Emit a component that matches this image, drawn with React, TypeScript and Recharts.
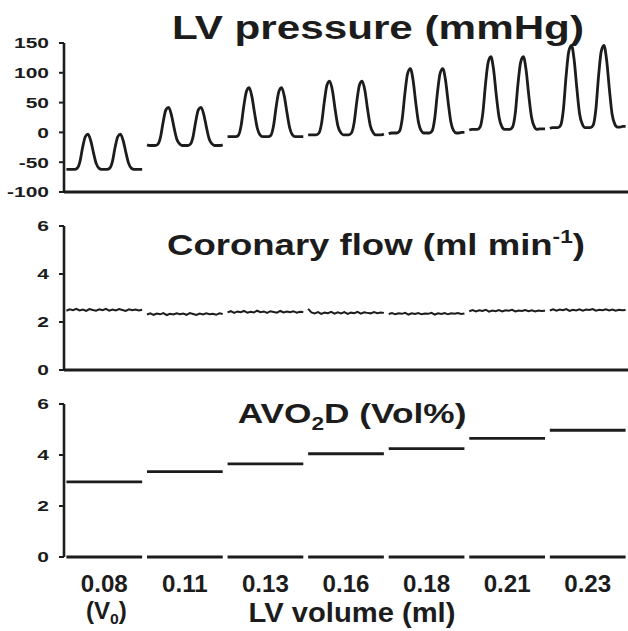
import { Label, Line, LineChart, ReferenceLine, XAxis, YAxis } from "recharts";

// LV volumes of the seven recording windows (ml)
const volumes = ["0.08", "0.11", "0.13", "0.16", "0.18", "0.21", "0.23"];

// LV pressure (mmHg), two beats per window, evenly sampled
const pressure008 = [-62, -62, -62, -62, -60, -49, -25, -7, -3, -14, -34, -52, -60, -62, -62, -62, -60, -49, -25, -7, -3, -14, -34, -52, -60, -62, -62, -62, -62];
const pressure011 = [-21, -22, -22, -22, -20, -8, 18, 38, 42, 30, 8, -11, -19, -22, -22, -22, -20, -8, 18, 38, 42, 30, 8, -11, -19, -22, -22, -22, -21];
const pressure013 = [-7, -7, -7, -7, -5, 11, 44, 69, 75, 60, 32, 7, -4, -7, -7, -7, -5, 11, 44, 69, 75, 60, 32, 7, -4, -7, -7, -7, -7];
const pressure016 = [-4, -4, -4, -4, -1, 16, 52, 80, 86, 70, 38, 11, 0, -4, -4, -4, -1, 16, 52, 80, 86, 70, 38, 11, 0, -4, -4, -4, -3];
const pressure018 = [-2, -1, -1, -1, 2, 23, 66, 99, 107, 88, 50, 17, 3, -1, -1, -1, 2, 23, 66, 99, 107, 88, 50, 17, 3, -1, -1, 0, 0];
const pressure021 = [4, 5, 5, 5, 9, 32, 81, 118, 127, 105, 62, 26, 10, 5, 5, 5, 9, 32, 81, 118, 127, 105, 62, 26, 10, 5, 6, 6, 6];
const pressure023 = [7, 8, 8, 8, 12, 38, 94, 136, 146, 121, 73, 31, 14, 8, 8, 8, 12, 38, 94, 136, 146, 121, 73, 31, 14, 9, 9, 10, 10];
const pressureTraces = [pressure008, pressure011, pressure013, pressure016, pressure018, pressure021, pressure023];

// coronary flow (ml/min), raw trace in each window
const flow008 = [2.47, 2.53, 2.49, 2.55, 2.48, 2.52, 2.46, 2.54, 2.5, 2.47, 2.53, 2.49, 2.55, 2.47, 2.52, 2.48, 2.54, 2.5, 2.46, 2.53, 2.49, 2.52, 2.48, 2.51];
const flow011 = [2.31, 2.36, 2.3, 2.35, 2.32, 2.37, 2.29, 2.34, 2.31, 2.36, 2.32, 2.35, 2.3, 2.37, 2.33, 2.29, 2.35, 2.31, 2.36, 2.32, 2.34, 2.3, 2.36, 2.33];
const flow013 = [2.4, 2.45, 2.38, 2.44, 2.41, 2.46, 2.39, 2.43, 2.4, 2.47, 2.41, 2.44, 2.38, 2.45, 2.42, 2.39, 2.46, 2.4, 2.44, 2.41, 2.45, 2.39, 2.43, 2.42];
const flow016 = [2.55, 2.4, 2.36, 2.41, 2.34, 2.39, 2.37, 2.42, 2.35, 2.4, 2.36, 2.41, 2.34, 2.39, 2.37, 2.42, 2.35, 2.4, 2.38, 2.36, 2.41, 2.37, 2.4, 2.38];
const flow018 = [2.33, 2.37, 2.32, 2.36, 2.34, 2.38, 2.31, 2.36, 2.33, 2.37, 2.32, 2.35, 2.34, 2.38, 2.31, 2.36, 2.33, 2.37, 2.32, 2.36, 2.34, 2.37, 2.33, 2.35];
const flow021 = [2.45, 2.5, 2.44, 2.49, 2.46, 2.51, 2.43, 2.48, 2.45, 2.5, 2.44, 2.49, 2.47, 2.51, 2.44, 2.48, 2.46, 2.5, 2.45, 2.49, 2.44, 2.48, 2.46, 2.47];
const flow023 = [2.48, 2.53, 2.47, 2.52, 2.49, 2.54, 2.46, 2.51, 2.48, 2.53, 2.47, 2.52, 2.5, 2.54, 2.47, 2.51, 2.49, 2.53, 2.48, 2.52, 2.47, 2.51, 2.49, 2.5];
const flowTraces = [flow008, flow011, flow013, flow016, flow018, flow021, flow023];

// arteriovenous O2 difference (Vol%) per window
const avo2d = [2.95, 3.35, 3.65, 4.05, 4.25, 4.65, 4.97];

const pressureTicks = [-100, -50, 0, 50, 100, 150];
const flowTicks = [0, 2, 4, 6];
const avoTicks = [0, 2, 4, 6];
const volumeTicks = volumes.map((_, i) => i + 0.5);

const INK = "#1c1c1c";
const FONT = "'Liberation Sans', Arial, Helvetica, sans-serif";
const WIN_START = 0.03;
const WIN_END = 0.97;

// spread a window's samples across its slot on the x axis
function toSeries(values: number[], slot: number) {
  const n = values.length;
  return values.map((v, j) => ({
    t: slot + WIN_START + ((WIN_END - WIN_START) * j) / (n - 1),
    v,
  }));
}

function renderYTick(props: any) {
  const { x, y, payload } = props;
  return (
    <g transform={`translate(${x},${y}) scale(1.4,1)`}>
      <text x={0} y={0} dy="0.36em" textAnchor="end" fontSize={15} fontWeight={700} fill={INK} fontFamily={FONT}>
        {payload.value}
      </text>
    </g>
  );
}

function renderVolumeTick(props: any) {
  const { x, y, payload } = props;
  const idx = Math.floor(payload.value);
  return (
    <g transform={`translate(${x},${y}) scale(1.05,1)`}>
      <text x={0} y={35} textAnchor="middle" fontSize={23} fontWeight={700} fill={INK} fontFamily={FONT}>
        {volumes[idx]}
      </text>
      {idx === 0 && (
        <text x={2} y={62} textAnchor="middle" fontSize={23} fontWeight={700} fill={INK} fontFamily={FONT}>
          (V
          <tspan fontSize={15} dy={5}>0</tspan>
          <tspan dy={-5}>)</tspan>
        </text>
      )}
    </g>
  );
}

function renderVolumeLabel(props: any) {
  const { x, y, width } = props.viewBox;
  return (
    <g transform={`translate(${x + width / 2 + 6},${y + 65}) scale(1.08,1)`}>
      <text x={0} y={0} textAnchor="middle" fontSize={27} fontWeight={700} fill={INK} fontFamily={FONT}>
        LV volume (ml)
      </text>
    </g>
  );
}

const yAxisStyle = {
  width: 64,
  axisLine: { stroke: INK, strokeWidth: 2.6 },
  tickLine: { stroke: INK, strokeWidth: 2 },
  tickSize: 5,
  tickMargin: 10,
  tick: renderYTick,
  interval: 0 as const,
};

function Title({ cx, y, size, children }: { cx: number; y: number; size: number; children: any }) {
  return (
    <g transform={`translate(${cx},${y}) scale(1.26,1)`}>
      <text x={0} y={0} textAnchor="middle" fontSize={size} fontWeight={700} fill={INK} fontFamily={FONT}>
        {children}
      </text>
    </g>
  );
}

export default function App() {
  return (
    <div style={{ position: "absolute", left: 0, top: 0, width: 628, height: 631, background: "#fff" }}>
      <div style={{ position: "absolute", left: 0, top: 0 }}>
        <LineChart width={628} height={200} margin={{ top: 43, right: 0, bottom: 8, left: 0 }}>
          <XAxis type="number" dataKey="t" domain={[0, 7]} hide />
          <YAxis type="number" domain={[-100, 150]} ticks={pressureTicks} {...yAxisStyle} />
          <ReferenceLine y={-100} stroke={INK} strokeWidth={3} />
          {pressureTraces.map((trace, i) => (
            <Line
              key={volumes[i]}
              data={toSeries(trace, i)}
              dataKey="v"
              type="monotone"
              stroke={INK}
              strokeWidth={2.8}
              dot={false}
              isAnimationActive={false}
            />
          ))}
        </LineChart>
      </div>

      <div style={{ position: "absolute", left: 0, top: 200 }}>
        <LineChart width={628} height={180} margin={{ top: 26, right: 0, bottom: 10, left: 0 }}>
          <XAxis type="number" dataKey="t" domain={[0, 7]} hide />
          <YAxis type="number" domain={[0, 6]} ticks={flowTicks} {...yAxisStyle} />
          <ReferenceLine y={0} stroke={INK} strokeWidth={3} />
          {flowTraces.map((trace, i) => (
            <Line
              key={volumes[i]}
              data={toSeries(trace, i)}
              dataKey="v"
              type="linear"
              stroke={INK}
              strokeWidth={2}
              dot={false}
              isAnimationActive={false}
            />
          ))}
        </LineChart>
      </div>

      <div style={{ position: "absolute", left: 0, top: 380 }}>
        <LineChart width={628} height={251} margin={{ top: 24, right: 0, bottom: 0, left: 0 }}>
          <XAxis
            type="number"
            dataKey="t"
            domain={[0, 7]}
            ticks={volumeTicks}
            interval={0}
            axisLine={false}
            tickLine={false}
            tickSize={0}
            tickMargin={0}
            height={74}
            tick={renderVolumeTick}
          >
            <Label content={renderVolumeLabel} />
          </XAxis>
          <YAxis type="number" domain={[0, 6]} ticks={avoTicks} {...yAxisStyle} />
          {avo2d.map((v, i) => (
            <Line
              key={`avo-${volumes[i]}`}
              data={toSeries([v, v], i)}
              dataKey="v"
              stroke={INK}
              strokeWidth={2.8}
              dot={false}
              isAnimationActive={false}
            />
          ))}
          {avo2d.map((_, i) => (
            <Line
              key={`zero-${volumes[i]}`}
              data={toSeries([0, 0], i)}
              dataKey="v"
              stroke={INK}
              strokeWidth={3}
              dot={false}
              isAnimationActive={false}
            />
          ))}
        </LineChart>
      </div>

      <svg width={628} height={631} style={{ position: "absolute", left: 0, top: 0, pointerEvents: "none" }}>
        <Title cx={378} y={39} size={33.5}>LV pressure (mmHg)</Title>
        <Title cx={376} y={255} size={29}>
          Coronary flow (ml min
          <tspan fontSize={18} dy={-12}>-1</tspan>
          <tspan dy={12}>)</tspan>
        </Title>
        <Title cx={352} y={423} size={28}>
          AVO
          <tspan fontSize={18} dy={7}>2</tspan>
          <tspan dy={-7}>D (Vol%)</tspan>
        </Title>
      </svg>
    </div>
  );
}
